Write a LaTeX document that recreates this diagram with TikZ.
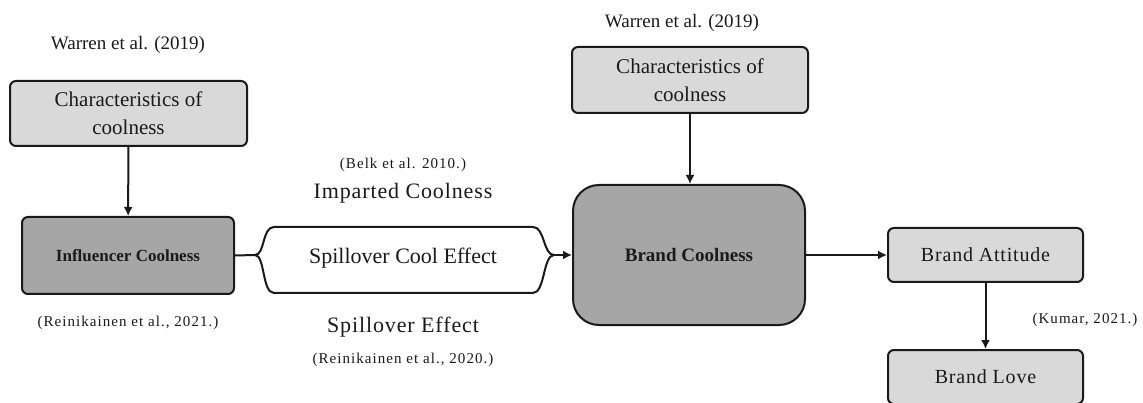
\documentclass[tikz,border=0pt]{standalone}
\usepackage{fontspec}
\setmainfont{Liberation Serif}
\newfontfamily\citefont[LetterSpace=7]{Liberation Serif}
\newfontfamily\midfont[LetterSpace=4]{Liberation Serif}
\usetikzlibrary{arrows.meta}
\definecolor{lightbox}{HTML}{D9D9D9}
\definecolor{darkbox}{HTML}{A6A6A6}
\definecolor{ink}{HTML}{1A1A1A}
\begin{document}
\begin{tikzpicture}[x=1pt,y=-1pt,
  every node/.style={text=ink},
  box/.style={draw=ink, line width=2pt, rounded corners=6pt, inner sep=0pt, align=center},
  charbox/.style={box, fill=lightbox, minimum width=237pt, minimum height=65pt, font=\fontsize{21}{28}\selectfont},
  outbox/.style={box, fill=lightbox, minimum width=195pt, minimum height=54pt, font=\midfont\fontsize{20}{24}\selectfont},
  cite/.style={font=\citefont\fontsize{15}{18}\selectfont},
  ref/.style={font=\fontsize{19}{23}\selectfont},
  mid/.style={font=\midfont\fontsize{22}{26}\selectfont},
  conn/.style={draw=ink, line width=2pt},
  arr/.style={conn, -{Latex[length=9pt,width=9pt]}}
]
\clip (0,0) rectangle (1143,403);
\fill[white] (0,0) rectangle (1143,403);

% left column
\node[ref] (warL) at (128,45) {Warren et al. (2019)};
\node[charbox] (charL) at (128.5,113.5) {Characteristics of\\coolness};
\node[box, fill=darkbox, minimum width=212pt, minimum height=77pt, font=\bfseries\fontsize{17}{20}\selectfont] (inf) at (128,255.5) {Influencer Coolness};
\node[cite] (reiL) at (128,323) {(Reinikainen et al., 2021.)};

% middle
\node[cite] (belk) at (403,165) {(Belk et al. 2010.)};
\node[mid] (imp) at (403,193) {Imparted Coolness};
\node[font=\fontsize{22}{26}\selectfont] (spill) at (403,258) {Spillover Cool Effect};
\node[mid] (spe) at (403,327) {Spillover Effect};
\node[cite] (reiM) at (403,360) {(Reinikainen et al., 2020.)};

% brand coolness column
\node[ref] (warR) at (682,23) {Warren et al. (2019)};
\node[charbox, minimum width=236pt, minimum height=66pt] (charR) at (690,80) {Characteristics of\\coolness};
\node[box, fill=darkbox, rounded corners=26pt, minimum width=232pt, minimum height=140pt, font=\bfseries\fontsize{19}{22}\selectfont] (bc) at (689,255) {Brand Coolness};

% outcomes
\node[outbox] (ba) at (985.5,255) {Brand Attitude};
\node[outbox] (bl) at (985.5,377) {Brand Love};
\node[cite] (kum) at (1085,320) {(Kumar, 2021.)};

% connectors
\draw[arr] (charL) -- (inf);
\draw[arr] (charR.south) -- (charR.south |- bc.north);
\draw[arr] (bc.east) -- (ba.west);
\draw[arr] (ba) -- (bl);

\coordinate (sL) at (255,255);
\coordinate (sR) at (554,255);
\draw[conn] (inf.east) -- (sL)
  .. controls (265,255) and (262,227) .. (274,227) -- (533,227)
  .. controls (545,227) and (543,255) .. (sR);
\draw[conn] (sL)
  .. controls (265,255) and (262,293) .. (274,293) -- (533,293)
  .. controls (545,293) and (543,255) .. (sR);
\draw[arr] (sR) -- (bc.west);
\end{tikzpicture}
\end{document}
